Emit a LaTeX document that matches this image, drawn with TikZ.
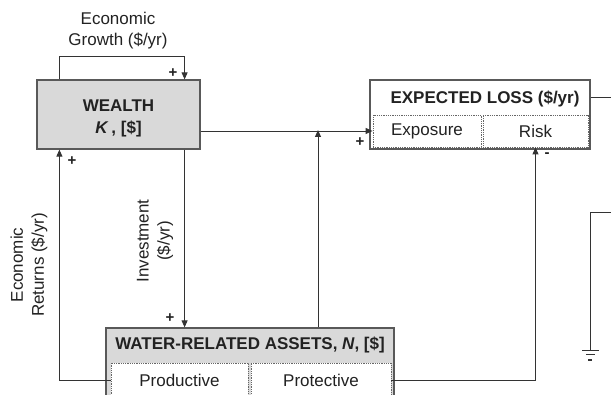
\documentclass[tikz,border=0pt]{standalone}
\usepackage{fontspec}
\setmainfont{Liberation Sans}
\usetikzlibrary{arrows.meta}
\definecolor{linegray}{HTML}{333333}
\definecolor{textgray}{HTML}{222222}
\begin{document}
\begin{tikzpicture}
    [x=1pt,y=1pt,inner sep=0pt,
     font=\fontsize{17}{21}\selectfont,text=textgray,
     stock/.style={rectangle,draw=black!65,line width=1.2pt,fill=black!15},
     sub/.style={rectangle,draw=black!60,densely dotted,line width=0.8pt,fill=white},
     link/.style={draw=linegray,line width=0.9pt},
     sign/.style={font=\fontsize{15}{15}\selectfont\bfseries},
     >={Triangle[length=7pt,width=6pt]}]
    \useasboundingbox (0,0) rectangle (611,394);
    \clip (0,0) rectangle (611,394);
    % stocks
    \node (wealth) at (118.5, 279.5) [stock,minimum width=163,minimum height=69] {};
    \node (wtitle) at (118.5, 276) [align=center]
      {\textbf{WEALTH}\\[1pt]\textbf{\textit{K}\,, [\$]}};
    \node (assets) at (250, 30) [stock,minimum width=288,minimum height=72] {};
    \node (atitle) at (250, 49) {\textbf{WATER-RELATED ASSETS, \textit{N}, [\$]}};
    \node (prod) at (179.5, 14) [sub,minimum width=137,minimum height=34] {Productive};
    \node (prot) at (321, 14) [sub,minimum width=140,minimum height=34] {Protective};
    % expected loss
    \node (loss) at (480, 279.5) [rectangle,draw=black!65,line width=1.2pt,fill=white,
      minimum width=220,minimum height=69] {};
    \node (ltitle) at (485, 295.5) {\textbf{EXPECTED LOSS (\$/yr)}};
    \node (expo) at (427, 263) [sub,minimum width=108,minimum height=32] {Exposure};
    \node (risk) at (535.5, 263) [sub,minimum width=105,minimum height=32] {Risk};
    % labels
    \node (growth) at (118, 363) [align=center] {Economic\\Growth (\$/yr)};
    \node (returns) at (29, 129) [align=center,rotate=90] {Economic\\Returns (\$/yr)};
    \node (invest) at (155, 153) [align=center,rotate=90] {Investment\\(\$/yr)};
    \node (p1) at (173, 321) [sign] {+};
    \node (p2) at (72, 233) [sign] {+};
    \node (p3) at (170, 76) [sign] {+};
    \node (p4) at (360, 252) [sign] {+};
    \node (m1) at (547, 239) [sign] {-};
    % loose ends
    \coordinate (join) at (318, 264);
    \coordinate (out1) at (611, 297);
    \coordinate (in1) at (611, 182);
    \coordinate (gnd) at (590, 44);
    % links
    \draw [link,->] ([xshift=23]wealth.north west) -- ++(0,23) -| ([xshift=-16]wealth.north east);
    \draw [link,->] (wealth.east |- expo.west) to (expo.west);
    \draw [link,->] ([xshift=-16]wealth.south east) to ([xshift=-16]wealth.south east |- assets.north);
    \draw [link,->] (prod.west) -| ([xshift=23]wealth.south west);
    \draw [link,->] (join |- assets.north) to (join);
    \draw [link,->] (prot.east) -| (risk.south);
    \draw [link] (loss.east |- out1) to (out1);
    \draw [link] (in1) -| (gnd);
    % ground
    \draw [link] (582, 44) -- (599, 44);
    \draw [link] (586, 39.5) -- (595, 39.5);
    \draw [link,line width=1.4pt] (588, 34) -- (592, 34);
\end{tikzpicture}
\end{document}
